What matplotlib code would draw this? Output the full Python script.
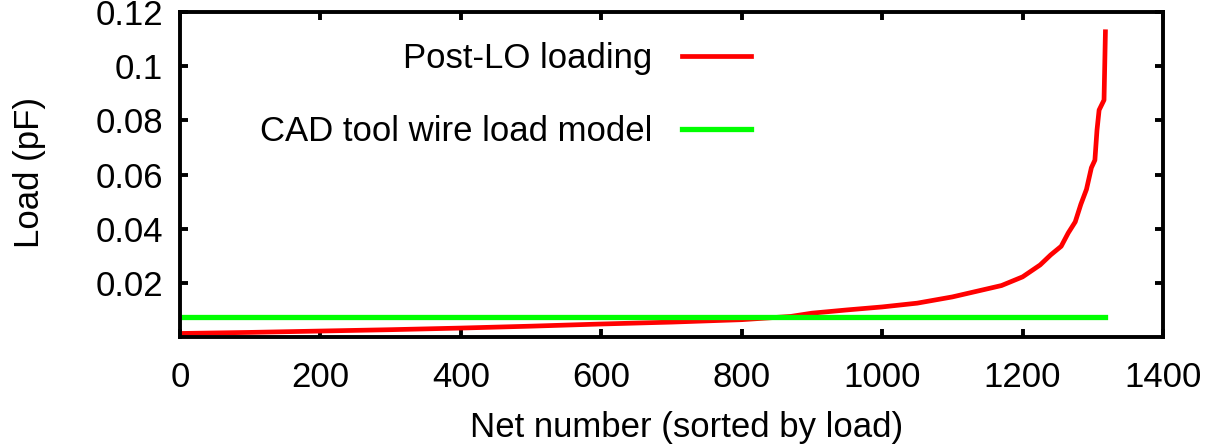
import matplotlib.pyplot as plt

plt.rcParams["font.family"] = ["Liberation Sans", "DejaVu Sans"]

# -----------------------------
# data
# -----------------------------
net_idx = [0, 100, 200, 300, 400, 500, 600, 700, 800, 870, 900, 950,
           1000, 1050, 1100, 1150, 1170, 1200, 1225, 1240, 1255, 1265,
           1275, 1283, 1291, 1298, 1303, 1306, 1309, 1316, 1318]
post_lo = [0.0013, 0.0017, 0.0022, 0.0027, 0.0033, 0.0040, 0.0048, 0.0055,
           0.0064, 0.0076, 0.0088, 0.0100, 0.0111, 0.0125, 0.0148, 0.0178,
           0.0190, 0.0222, 0.0266, 0.0303, 0.0335, 0.0384, 0.0425, 0.0490,
           0.0545, 0.0625, 0.0653, 0.0764, 0.0838, 0.0875, 0.1127]

wlm_x = [0, 1318]
wlm_y = [0.0074, 0.0074]

x_ticks = [0, 200, 400, 600, 800, 1000, 1200, 1400]
y_ticks = [0.02, 0.04, 0.06, 0.08, 0.10, 0.12]
y_labels = ["0.02", "0.04", "0.06", "0.08", "0.1", "0.12"]

# -----------------------------
# plot
# -----------------------------
fs = 25
fig = plt.figure(figsize=(12.07, 4.45), dpi=100)
ax = fig.add_axes([180 / 1207, 1 - 337 / 445, 983 / 1207, 325 / 445])

ax.plot(net_idx, post_lo, color="#ff0000", lw=3.4, label="Post-LO loading")
ax.plot(wlm_x, wlm_y, color="#00ff00", lw=3.8, label="CAD tool wire load model")

ax.set_xlim(0, 1400)
ax.set_ylim(0, 0.12)
ax.set_xticks(x_ticks)
ax.set_xticklabels([str(v) for v in x_ticks])
ax.set_yticks(y_ticks)
ax.set_yticklabels(y_labels)

for s in ax.spines.values():
    s.set_linewidth(2.8)
ax.tick_params(direction="in", length=6, width=2.8, labelsize=fs,
               top=True, right=True)
ax.tick_params(axis="y", pad=12)
ax.tick_params(axis="x", pad=17)

ax.set_xlabel("Net number (sorted by load)", fontsize=fs)
ax.set_ylabel("Load (pF)", fontsize=fs)
ax.xaxis.set_label_coords(0.515, -0.228)
ax.yaxis.set_label_coords(-0.136, 0.506)

ax.legend(loc="upper right", bbox_to_anchor=(0.581, 0.908), frameon=False,
          markerfirst=False, fontsize=fs, handlelength=2.0,
          handletextpad=0.84, labelspacing=1.16, borderaxespad=0,
          borderpad=0)

fig.savefig("out.png", dpi=100)
